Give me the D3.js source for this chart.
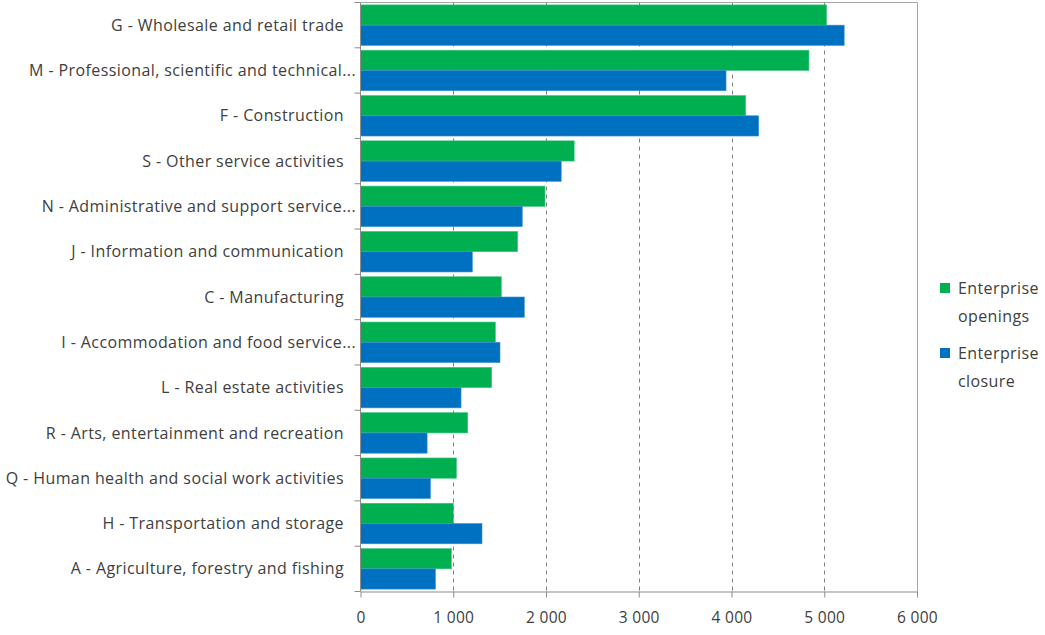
<!DOCTYPE html>
<html>
<head>
<meta charset="utf-8">
<script src="https://cdn.jsdelivr.net/npm/d3@7"></script>
<style>
  body { margin: 0; background: #fff; }
  svg { display: block; font-family: "Open Sans", "Liberation Sans", sans-serif; }
</style>
</head>
<body>
<svg id="chart" width="1045" height="635"></svg>
<script>
// categories, top to bottom
const categories = [
  "G - Wholesale and retail trade",
  "M - Professional, scientific and technical...",
  "F - Construction",
  "S - Other service activities",
  "N - Administrative and support service...",
  "J - Information and communication",
  "C - Manufacturing",
  "I - Accommodation and food service...",
  "L - Real estate activities",
  "R - Arts, entertainment and recreation",
  "Q - Human health and social work activities",
  "H - Transportation and storage",
  "A - Agriculture, forestry and fishing"
];
const openings = [5025, 4835, 4153, 2304, 1989, 1694, 1518, 1454, 1414, 1156, 1034, 1001, 980];
const closures = [5215, 3941, 4293, 2164, 1744, 1206, 1766, 1504, 1084, 718, 754, 1310, 808];
const seriesNames = [["Enterprise", "openings"], ["Enterprise", "closure"]];
const xTicks = [0, 1000, 2000, 3000, 4000, 5000, 6000];

const colors = ["#00b050", "#0070c0"];
const plotLeft = 360.5, plotRight = 917, plotTop = 2.5, plotBottom = 591.5;

const svg = d3.select("#chart");

const x = d3.scaleLinear().domain([0, 6000]).range([plotLeft, plotRight]);
const y = d3.scaleBand().domain(categories).range([plotTop, plotBottom]).paddingInner(0).paddingOuter(0);
const sub = d3.scaleBand().domain([0, 1]).range([0, y.bandwidth()]).paddingOuter(0.118).paddingInner(0);

// dashed gridlines
svg.append("g")
  .selectAll("line")
  .data(xTicks.filter(d => d > 0 && d < 6000))
  .join("line")
  .attr("x1", d => Math.round(x(d)) + 0.5)
  .attr("x2", d => Math.round(x(d)) + 0.5)
  .attr("y1", plotTop)
  .attr("y2", plotBottom)
  .attr("stroke", "#7f7f7f")
  .attr("stroke-width", 1)
  .attr("stroke-dasharray", "4,4");

// plot border top/right
svg.append("path")
  .attr("d", `M${plotLeft},${plotTop}H${Math.round(plotRight) + 0.5}V${plotBottom}`)
  .attr("fill", "none")
  .attr("stroke", "#a6a6a6");

// bars
const rows = svg.append("g")
  .selectAll("g")
  .data(categories.map((c, i) => ({ c, v: [openings[i], closures[i]] })))
  .join("g")
  .attr("transform", d => `translate(0,${y(d.c)})`);

rows.selectAll("rect")
  .data(d => d.v.map((v, k) => ({ v, k })))
  .join("rect")
  .attr("x", x(0))
  .attr("y", d => sub(d.k))
  .attr("width", d => x(d.v) - x(0))
  .attr("height", sub.bandwidth())
  .attr("fill", d => colors[d.k])
  .attr("stroke", d => d.k === 0 ? "#3fc47f" : "#3f93d0")
  .attr("stroke-width", 0.6);

// x axis
const xAxis = svg.append("g")
  .attr("transform", `translate(0,${plotBottom})`)
  .call(d3.axisBottom(x).tickValues(xTicks).tickSize(6).tickSizeOuter(0)
    .tickFormat(d => d3.format(",")(d).replace(",", " ")));
xAxis.select(".domain").attr("stroke", "#8c8c8c");
xAxis.selectAll(".tick line").attr("stroke", "#8c8c8c");
xAxis.selectAll("text")
  .attr("y", 20)
  .attr("font-size", 15.5)
  .attr("letter-spacing", 0.3)
  .attr("fill", "#404040")
  .attr("font-family", "'Open Sans', sans-serif");

// y axis (category ticks at band boundaries)
svg.append("line")
  .attr("x1", plotLeft).attr("x2", plotLeft)
  .attr("y1", plotTop).attr("y2", plotBottom)
  .attr("stroke", "#8c8c8c");
svg.append("g")
  .selectAll("line")
  .data(categories.map(c => y(c)).concat([plotBottom]))
  .join("line")
  .attr("x1", plotLeft - 6).attr("x2", plotLeft)
  .attr("y1", d => d).attr("y2", d => d)
  .attr("stroke", "#8c8c8c");

svg.append("g")
  .selectAll("text")
  .data(categories)
  .join("text")
  .attr("x", d => d.endsWith("...") ? 356 : 344)
  .attr("y", d => y(d) + y.bandwidth() / 2)
  .attr("dy", "0.35em")
  .attr("text-anchor", "end")
  .attr("font-size", 16)
  .attr("letter-spacing", 0.4)
  .attr("fill", "#404040")
  .text(d => d);

// legend
const legend = svg.append("g");
const legendY = [283, 348];
seriesNames.forEach((lines, k) => {
  legend.append("rect")
    .attr("x", 940).attr("y", legendY[k])
    .attr("width", 10).attr("height", 10)
    .attr("fill", colors[k]);
  lines.forEach((t, j) => {
    legend.append("text")
      .attr("x", 958)
      .attr("y", legendY[k] + 5 + j * 28)
      .attr("dy", "0.35em")
      .attr("font-size", 16)
      .attr("letter-spacing", 0.4)
      .attr("fill", "#404040")
      .text(t);
  });
});
</script>
</body>
</html>
